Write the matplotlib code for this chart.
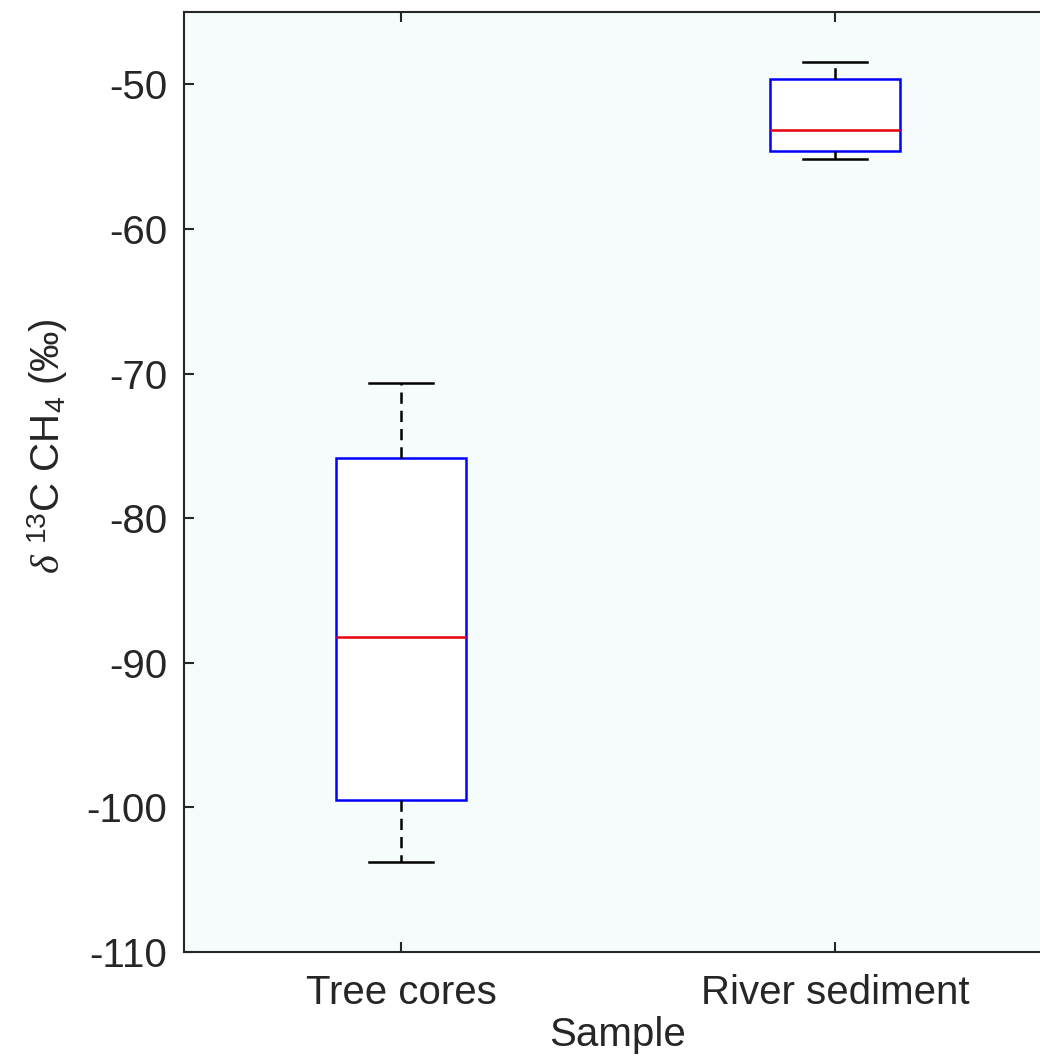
import matplotlib
matplotlib.use("Agg")
import matplotlib.pyplot as plt

categories = ["Tree cores", "River sediment"]
whisker_low = [-103.76, -55.14]
q1 = [-99.49, -54.61]
median = [-88.22, -53.13]
q3 = [-75.87, -49.63]
whisker_high = [-70.65, -48.46]
yticks = [-110, -100, -90, -80, -70, -60, -50]

plt.rcParams['font.family'] = ['Liberation Sans', 'DejaVu Sans']
plt.rcParams['mathtext.fontset'] = 'custom'
plt.rcParams['mathtext.rm'] = 'Liberation Sans'
plt.rcParams['mathtext.it'] = 'Liberation Serif:italic'

W, H = 1040, 1060
fig = plt.figure(figsize=(W / 100, H / 100), dpi=100)
fig.patch.set_facecolor('white')
ax = fig.add_axes([184 / W, (H - 952) / H, 868 / W, 940 / H])
ax.set_facecolor('#F6FCFC')

stats = []
for i, name in enumerate(categories):
    stats.append(dict(label=name, whislo=whisker_low[i], q1=q1[i], med=median[i],
                      q3=q3[i], whishi=whisker_high[i], fliers=[]))

lw = 1.8
ax.bxp(stats, positions=[1, 2], widths=0.30, capwidths=0.147, showfliers=False,
       patch_artist=True,
       boxprops=dict(facecolor='white', edgecolor='#0000FF', linewidth=lw),
       medianprops=dict(color='#E8000B', linewidth=lw),
       whiskerprops=dict(color='black', linewidth=lw, linestyle=(0, (4.5, 2.8))),
       capprops=dict(color='black', linewidth=lw))

ax.set_xlim(0.5, 2.5)
ax.set_ylim(-110, -45)
ax.set_yticks(yticks)
ax.set_yticklabels([str(t) for t in yticks])
ax.set_xticks([1, 2])
ax.set_xticklabels(categories)

for s in ['left', 'bottom', 'top', 'right']:
    ax.spines[s].set_color('#262626')
    ax.spines[s].set_linewidth(1.5)

ax.tick_params(axis='both', direction='in', length=7.5, width=1.5, color='#262626',
               labelsize=29, labelcolor='#262626')
ax.tick_params(axis='x', top=True, pad=16)
ax.tick_params(axis='y', right=True, pad=12)

ax.set_xlabel('Sample', fontsize=29, color='#262626', labelpad=3)

ylab = r'$\delta$ $^{13}$C CH$_4$ (‰)'
fig.text(48 / W, 1 - 446 / H, ylab, fontsize=29, color='#262626',
         rotation=90, ha='center', va='center')

fig.savefig('out.png', dpi=100)
